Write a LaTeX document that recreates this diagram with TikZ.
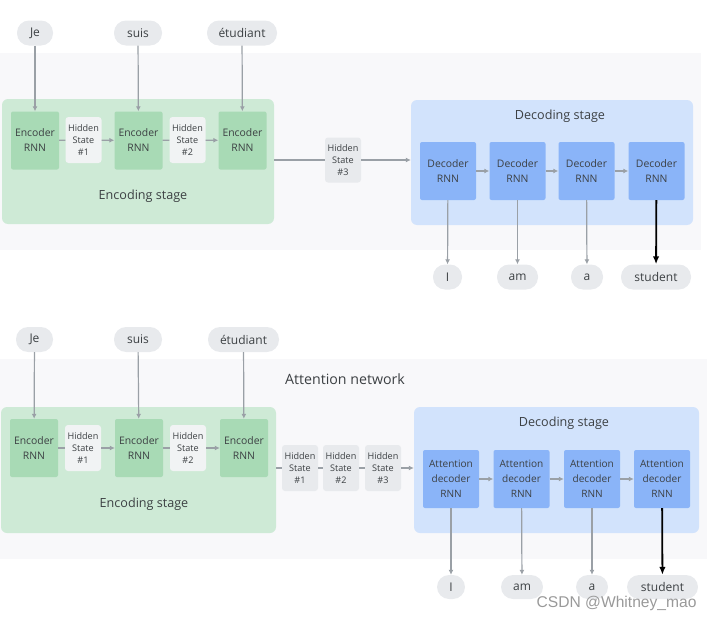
\documentclass[tikz,border=0pt]{standalone}
\usepackage{fontspec}
\setmainfont{Open Sans}
\setsansfont{Liberation Sans}
\usetikzlibrary{arrows.meta}

\definecolor{bandgray}{HTML}{F8F8FA}
\definecolor{stagegreen}{HTML}{CEEAD6}
\definecolor{encgreen}{HTML}{A8DAB5}
\definecolor{stageblue}{HTML}{D2E3FC}
\definecolor{decblue}{HTML}{8AB4F8}
\definecolor{wordgray}{HTML}{E8EAED}
\definecolor{hidlight}{HTML}{F1F3F4}
\definecolor{txtgray}{HTML}{3C4043}
\definecolor{arrgray}{HTML}{9AA0A6}

\tikzset{
  word/.style={fill=wordgray, rounded corners=12pt, inner sep=0pt,
    minimum height=25pt, text=txtgray, font=\fontsize{12}{14}\selectfont},
  encbox/.style={fill=encgreen, rounded corners=2pt, inner sep=0pt,
    minimum width=48pt, minimum height=58pt, align=center, text=txtgray,
    font=\fontsize{10.4}{15}\selectfont},
  decbox/.style={fill=decblue, rounded corners=2pt, inner sep=0pt,
    minimum width=56pt, minimum height=58pt, align=center, text=txtgray,
    font=\fontsize{10.4}{14.5}\selectfont},
  hidbox/.style={fill=hidlight, rounded corners=3pt, inner sep=0pt,
    minimum width=36pt, minimum height=46pt, align=center, text=txtgray,
    font=\fontsize{9.1}{12}\selectfont},
  hidout/.style={hidbox, fill=wordgray},
  stagelabel/.style={text=txtgray, font=\fontsize{12.6}{15}\selectfont},
  link/.style={arrgray, line width=1.2pt},
  flow/.style={link, -{Latex[length=5pt,width=5pt]}},
  lastflow/.style={black, line width=1.8pt, -{Latex[length=8pt,width=6.5pt]}}
}

\begin{document}
\begin{tikzpicture}[x=1pt, y=-1pt]
\useasboundingbox (0,0) rectangle (716,621);

% ---- top: plain encoder / decoder ----
\fill[bandgray] (0,53) rectangle (701,250);
\node[fill=stagegreen, rounded corners=6pt, minimum width=272pt, minimum height=125pt] (enc) at (138,161.5) {};
\node[fill=stageblue, rounded corners=6pt, minimum width=282pt, minimum height=125pt] (dec) at (552,162.5) {};
\node[stagelabel] (enclbl) at (143,196) {Encoding stage};
\node[stagelabel] (declbl) at (560,116) {Decoding stage};

\node[word, minimum width=36pt] (je) at (35,33) {Je};
\node[word, minimum width=48pt] (suis) at (138,33) {suis};
\node[word, minimum width=70pt] (etu) at (242,33) {étudiant};

\node[encbox] (e1) at (35,140.5) {Encoder\\RNN};
\node[encbox] (e2) at (138.5,140.5) {Encoder\\RNN};
\node[encbox] (e3) at (242.5,140.5) {Encoder\\RNN};
\node[hidbox] (h1) at (83.5,140) {Hidden\\State\\\#1};
\node[hidbox] (h2) at (187.5,140) {Hidden\\State\\\#2};
\node[hidout, minimum height=45pt] (h3) at (343,160) {Hidden\\State\\\#3};

\node[decbox] (d1) at (448,171) {Decoder\\RNN};
\node[decbox] (d2) at (517.5,171) {Decoder\\RNN};
\node[decbox] (d3) at (586.5,171) {Decoder\\RNN};
\node[decbox] (d4) at (656.5,171) {Decoder\\RNN};

\node[word, minimum width=29pt] (o1) at (447.5,277) {I};
\node[word, minimum width=41pt] (o2) at (517.5,277) {am};
\node[word, minimum width=32pt] (o3) at (587,277) {a};
\node[word, minimum width=70pt] (o4) at (656,277) {student};

\draw[flow] (je) -- (e1);
\draw[flow] (suis) -- (e2);
\draw[flow] (etu) -- (e3);
\draw[link] (e1) -- (h1);
\draw[flow] (h1) -- (e2);
\draw[link] (e2) -- (h2);
\draw[flow] (h2) -- (e3);
\draw[link] (enc.east |- h3) -- (h3);
\draw[flow] (h3) -- (dec.west |- h3);
\draw[flow] (d1) -- (d2);
\draw[flow] (d2) -- (d3);
\draw[flow] (d3) -- (d4);
\draw[flow] (d1) -- (o1);
\draw[flow] (d2) -- (o2);
\draw[flow] (d3) -- (o3);
\draw[lastflow] (d4) -- (o4);

% ---- bottom: with attention ----
\fill[bandgray] (0,359) rectangle (707,559);
\node[text=txtgray, font=\fontsize{14.2}{17}\selectfont] (attn) at (345,379) {Attention network};
\node[fill=stagegreen, rounded corners=6pt, minimum width=275pt, minimum height=126pt] (aenc) at (138.5,470) {};
\node[fill=stageblue, rounded corners=6pt, minimum width=285pt, minimum height=126pt] (adec) at (556.5,470) {};
\node[stagelabel] (aenclbl) at (144,504) {Encoding stage};
\node[stagelabel] (adeclbl) at (564,423) {Decoding stage};

\node[word, minimum width=37pt] (aje) at (34.5,339.5) {Je};
\node[word, minimum width=48pt] (asuis) at (138,339.5) {suis};
\node[word, minimum width=71pt] (aetu) at (243.5,339.5) {étudiant};

\node[encbox] (ae1) at (34,448) {Encoder\\RNN};
\node[encbox] (ae2) at (139,448) {Encoder\\RNN};
\node[encbox] (ae3) at (244,448) {Encoder\\RNN};
\node[hidbox] (ah1) at (83,448) {Hidden\\State\\\#1};
\node[hidbox] (ah2) at (188,448) {Hidden\\State\\\#2};
\node[hidout] (ahs1) at (300,468) {Hidden\\State\\\#1};
\node[hidout] (ahs2) at (341,468) {Hidden\\State\\\#2};
\node[hidout] (ahs3) at (383,468) {Hidden\\State\\\#3};

\node[decbox, font=\fontsize{10.1}{15}\selectfont] (ad1) at (451,479) {Attention\\decoder\\RNN};
\node[decbox, font=\fontsize{10.1}{15}\selectfont] (ad2) at (521.5,479) {Attention\\decoder\\RNN};
\node[decbox, font=\fontsize{10.1}{15}\selectfont] (ad3) at (592,479) {Attention\\decoder\\RNN};
\node[decbox, font=\fontsize{10.1}{15}\selectfont] (ad4) at (662,479) {Attention\\decoder\\RNN};

\node[word, minimum width=28pt, minimum height=24pt] (ao1) at (451,587) {I};
\node[word, minimum width=42pt, minimum height=24pt] (ao2) at (522,587) {am};
\node[word, minimum width=32pt, minimum height=24pt] (ao3) at (592,587) {a};
\node[word, minimum width=71pt, minimum height=24pt] (ao4) at (662.5,587) {student};

\draw[flow] (aje) -- (ae1);
\draw[flow] (asuis) -- (ae2);
\draw[flow] (aetu) -- (ae3);
\draw[link] (ae1) -- (ah1);
\draw[flow] (ah1) -- (ae2);
\draw[link] (ae2) -- (ah2);
\draw[flow] (ah2) -- (ae3);
\draw[link] (aenc.east |- ahs1) -- (ahs1);
\draw[link] (ahs1) -- (ahs2);
\draw[link] (ahs2) -- (ahs3);
\draw[flow] (ahs3) -- (adec.west |- ahs3);
\draw[flow] (ad1) -- (ad2);
\draw[flow] (ad2) -- (ad3);
\draw[flow] (ad3) -- (ad4);
\draw[flow] (ad1) -- (ao1);
\draw[flow] (ad2) -- (ao2);
\draw[flow] (ad3) -- (ao3);
\draw[lastflow] (ad4) -- (ao4);

\node[anchor=east, text=black!40, font=\sffamily\fontsize{15.6}{18}\selectfont] (mark) at (700,603) {CSDN @Whitney\_mao};
\end{tikzpicture}
\end{document}
